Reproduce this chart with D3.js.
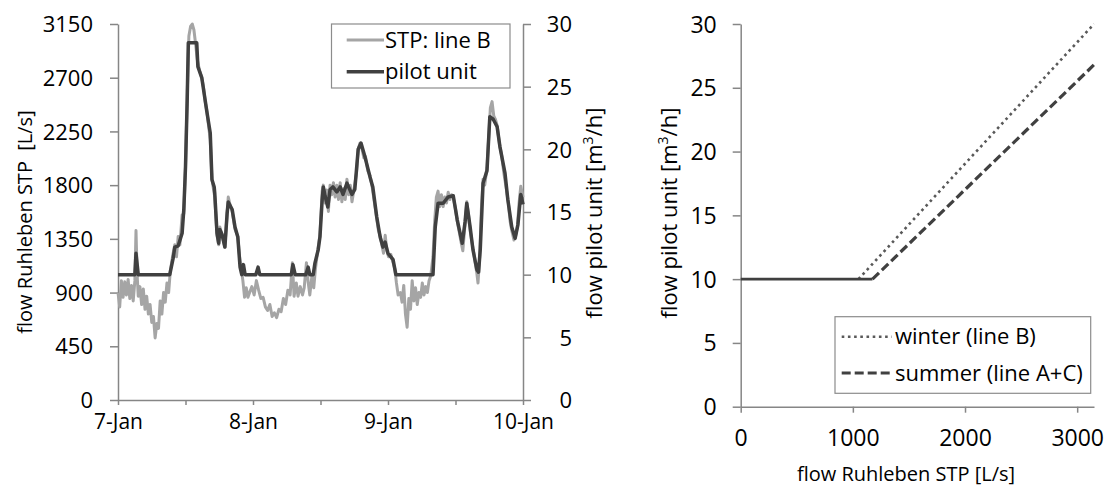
<!DOCTYPE html>
<html><head><meta charset="utf-8">
<script src="https://cdn.jsdelivr.net/npm/d3@7"></script>
<style>
body{margin:0;background:#fff}
svg{display:block}
text{font-family:"Open Sans",sans-serif;fill:#000}
</style>
</head><body>
<svg id="c" width="1106" height="486"></svg>
<script>
// ---------- Left chart data (hours after 7-Jan 00:00) ----------
const stpHours = [0,0.3,0.6,0.9,1.2,1.5,1.8,2.1,2.4,2.7,3.0,3.2,3.4,3.6,3.9,4.2,4.5,4.8,5.1,5.4,5.7,6.0,6.3,6.6,6.9,7.2,7.5,7.8,8.1,8.4,8.7,9.0,9.3,
 9.8,10.1,10.4,10.7,11.0,11.4,11.7,12.0,12.3,12.6,12.9,13.2,13.5,13.8,14.1,14.5,14.9,15.2,15.5,15.8,16.1,16.4,16.7,17.0,17.2,17.6,17.9,18.1,18.5,19.0,19.4,19.6,20.0,20.3,20.8,21.3,21.6,21.9,
 22.2,22.5,22.8,23.1,23.4,23.8,24.2,24.6,25.0,25.4,25.8,26.2,26.6,27.0,27.4,27.8,28.2,28.6,29.0,29.4,29.8,30.2,30.6,31.0,31.3,31.7,32.0,32.4,32.8,33.1,33.5,33.8,34.1,34.5,34.8,
 35.1,35.5,35.9,36.3,36.5,36.8,37.1,37.4,37.7,38.0,38.3,38.6,38.9,39.2,39.5,39.8,40.1,40.4,40.7,41.0,41.3,41.6,42.0,42.4,42.7,43.0,43.3,43.7,44.0,44.4,44.8,45.2,45.6,46.0,46.3,46.6,46.9,47.2,47.5,47.8,48.1,48.5,48.9,49.2,49.5,49.8,50.2,50.5,50.8,
 51.1,51.4,51.7,52.0,52.3,52.6,52.9,53.2,53.5,53.8,54.1,54.4,54.7,55.0,55.3,55.6,56.0,56.3,56.6,56.9,57.2,57.5,57.8,58.1,58.4,58.7,59.0,59.3,59.6,60.0,60.3,60.7,61.0,61.3,61.6,62.0,62.3,62.6,62.9,63.2,63.5,63.8,64.0,64.3,64.6,64.9,65.2,65.6,65.9,66.2,66.5,66.8,67.1,67.4,67.8,68.2,68.6,69.0,69.4,69.7,70.0,70.4,70.7,71.0,71.3,71.6,72.0];
const stpFlow = [900,780,1000,860,990,880,1010,850,960,830,1000,1420,1050,870,950,800,930,760,870,720,800,650,700,520,640,600,830,720,900,820,980,900,1080,
 1230,1300,1200,1370,1300,1550,1560,1950,2550,3050,3130,3150,3100,2980,2850,2760,2700,2620,2500,2420,2300,2180,1850,1760,1700,1380,1300,1450,1380,1280,1560,1700,1620,1580,1430,1370,1210,1100,
 1000,860,940,860,900,950,880,1000,920,850,860,780,750,800,700,730,690,760,740,850,800,920,880,1150,870,980,870,950,880,940,1150,990,880,1050,940,
 1100,1250,1380,1750,1800,1650,1760,1580,1800,1720,1820,1700,1800,1680,1820,1660,1770,1680,1850,1720,1800,1660,1780,1900,2100,2150,2120,2030,2040,1920,1880,1780,1650,1520,1420,1380,1300,1230,1380,1250,1200,1220,1150,1100,980,880,900,820,960,
 720,610,850,760,1000,830,940,800,900,860,980,880,950,900,1000,1040,1200,1500,1700,1750,1620,1720,1620,1700,1650,1740,1680,1720,1700,1600,1500,1400,1320,1250,1420,1660,1560,1420,1330,1250,1150,1060,980,1200,1600,1850,1800,1950,2200,2450,2500,2380,2350,2300,2150,2050,1900,1780,1650,1500,1420,1340,1380,1450,1650,1790,1700];

const pilotHours = [0,3.0,3.2,3.6,9.2,9.8,10.1,10.7,11.4,11.7,12.0,12.3,12.5,14.0,14.2,14.9,15.5,15.8,16.4,16.7,17.1,17.2,17.6,17.9,18.1,18.5,19.0,19.4,19.6,20.3,20.8,21.3,21.7,22.0,22.3,22.6,
 24.5,24.9,25.2,30.8,31.1,31.5,33.4,33.8,34.1,34.7,35.0,35.6,35.9,36.3,36.5,36.8,37.3,37.7,38.2,38.9,39.5,40.0,40.7,41.6,42.1,42.7,43.2,43.9,44.8,45.3,46.0,46.6,47.1,47.5,48.0,48.9,49.4,
 56.0,56.4,56.9,57.8,58.7,59.6,60.3,61.2,61.7,62.0,62.6,63.1,63.8,64.1,64.4,64.9,65.6,66.1,66.7,67.4,67.9,68.8,69.3,70.0,70.6,71.1,71.6,72.0];
const pilotFlow = [10,10,11.7,10,10,11.3,12.2,12.3,13.3,15.2,18.6,23.9,28.5,28.5,26.6,25.7,23.9,23.0,21.3,17.6,17.0,16.5,13.3,12.5,13.6,13.2,12.2,14.9,15.8,15.2,13.8,13.0,10.6,10,10.8,10,
 10,10.6,10,10,10.8,10,10,10.6,10,10,10.9,12.0,13.0,16.0,17.0,16.3,15.4,16.8,17.0,16.6,17.0,16.4,17.3,16.4,16.8,20.0,20.5,19.4,17.8,17.0,14.6,13.0,12.2,12.6,11.7,11.2,10,
 10,13.8,15.7,15.7,16.2,16.3,14.4,12.5,14.2,15.7,13.8,12.0,10.4,10.2,12.0,17.3,18.3,22.6,22.4,21.8,20.2,18.1,16.0,13.8,12.9,14.0,16.4,15.6];

const xTickLabels = ["7-Jan","8-Jan","9-Jan","10-Jan"];
const leftYTicks = [0,450,900,1350,1800,2250,2700,3150];
const rightYTicks = [0,5,10,15,20,25,30];
const leftLegend = ["STP: line B","pilot unit"];

// ---------- Right chart data ----------
const winterSTP = [0,1050,3150];
const winterPilot = [10,10,30];
const summerSTP = [0,1175,3150];
const summerPilot = [10,10,26.8];
const rXTicks = [0,1000,2000,3000];
const rYTicks = [0,5,10,15,20,25,30];
const rightLegend = ["winter (line B)","summer (line A+C)"];

const svg = d3.select("#c");
const AX = "#868686", GRAY = "#a5a5a5", DARK = "#404040";

function styleAxis(g, fs){
  g.select(".domain").attr("stroke",AX).attr("stroke-width",1.5);
  g.selectAll(".tick line").attr("stroke",AX).attr("stroke-width",1.5);
  g.selectAll("text").attr("font-size",fs).attr("font-family","Open Sans").attr("fill","#000");
}

// ===== Left chart =====
const t0 = new Date(2013,0,7);
const L = {x0:118, x1:523, y0:400, y1:24};
const xL = d3.scaleTime().domain([t0, d3.timeHour.offset(t0,72)]).range([L.x0,L.x1]);
const yL = d3.scaleLinear().domain([0,3150]).range([L.y0,L.y1]);
const yL2 = d3.scaleLinear().domain([0,30]).range([L.y0,L.y1]);
const hToDate = h => new Date(t0.getTime()+h*3600e3);

const xtv = d3.range(0,73,12).map(h=>d3.timeHour.offset(t0,h));
const gx = svg.append("g").attr("transform",`translate(0,${L.y0})`)
  .call(d3.axisBottom(xL).tickValues(xtv).tickSize(5).tickSizeOuter(0)
    .tickFormat((d,i)=> i%2===0 ? xTickLabels[i/2] : ""));
styleAxis(gx, 21);
gx.selectAll("text").attr("y",22).attr("dy","0.35em");

const gyl = svg.append("g").attr("transform",`translate(${L.x0},0)`)
  .call(d3.axisLeft(yL).tickValues(leftYTicks).tickSize(8).tickSizeOuter(0).tickFormat(d3.format("d")));
styleAxis(gyl, 22);
gyl.selectAll("text").attr("x",-25).attr("dy","0.35em");

const gyr = svg.append("g").attr("transform",`translate(${L.x1},0)`)
  .call(d3.axisRight(yL2).tickValues(rightYTicks).tickSize(8).tickSizeOuter(0).tickFormat(d3.format("d")));
styleAxis(gyr, 22);
gyr.selectAll("text").attr("x",49).attr("text-anchor","end").attr("dy","0.35em");

const stpData = stpHours.map((h,i)=>({h, v:stpFlow[i]}));
const lineSTP = d3.line().x(d=>xL(hToDate(d.h))).y(d=>yL(d.v));
svg.append("path").datum(stpData).attr("d",lineSTP)
  .attr("fill","none").attr("stroke",GRAY).attr("stroke-width",3).attr("stroke-linejoin","round");
const pilotData = pilotHours.map((h,i)=>({h, v:pilotFlow[i]}));
const linePilot = d3.line().x(d=>xL(hToDate(d.h))).y(d=>yL2(d.v));
svg.append("path").datum(pilotData).attr("d",linePilot)
  .attr("fill","none").attr("stroke",DARK).attr("stroke-width",3.5).attr("stroke-linejoin","round");

// left titles
svg.append("text").attr("transform","translate(32,222) rotate(-90)")
  .attr("text-anchor","middle").attr("font-size",20).text("flow Ruhleben STP\u00a0\u00a0[L/s]");
function pilotTitle(x){
  const t = svg.append("text").attr("transform",`translate(${x},213) rotate(-90)`)
    .attr("text-anchor","middle").attr("font-size",22);
  t.append("tspan").text("flow pilot unit [m");
  t.append("tspan").attr("font-size",14).attr("dy",-9).text("3");
  t.append("tspan").attr("dy",9).text("/h]");
}
pilotTitle(602);

// left legend
const lg = svg.append("g");
lg.append("rect").attr("x",331.5).attr("y",24).attr("width",178.5).attr("height",64)
  .attr("fill","#fff").attr("stroke","#8c8c8c").attr("stroke-width",1.2);
[[GRAY,3],[DARK,3.5]].forEach((s,i)=>{
  const yy = 40 + i*31.7;
  lg.append("line").attr("x1",346.7).attr("x2",384).attr("y1",yy).attr("y2",yy)
    .attr("stroke",s[0]).attr("stroke-width",s[1]);
  lg.append("text").attr("x",385).attr("y",yy).attr("dy","0.35em").attr("font-size",22).text(leftLegend[i]);
});

// ===== Right chart =====
const R = {x0:740.7, x1:1094, y0:406.7, y1:24};
const xR = d3.scaleLinear().domain([0,3150]).range([R.x0,R.x1]);
const yR = d3.scaleLinear().domain([0,30]).range([R.y0,R.y1]);

const grx = svg.append("g").attr("transform",`translate(0,${R.y0})`)
  .call(d3.axisBottom(xR).tickValues(rXTicks).tickSize(6).tickSizeOuter(0).tickFormat(d3.format("d")));
styleAxis(grx, 23);
grx.selectAll("text").attr("y",31).attr("dy","0.35em");
const gry = svg.append("g").attr("transform",`translate(${R.x0},0)`)
  .call(d3.axisLeft(yR).tickValues(rYTicks).tickSize(8).tickSizeOuter(0).tickFormat(d3.format("d")));
styleAxis(gry, 23);
gry.selectAll("text").attr("x",-24).attr("dy","0.35em");

const lineR = d3.line().x(d=>xR(d[0])).y(d=>yR(d[1]));
const winter = winterSTP.map((x,i)=>[x,winterPilot[i]]);
const summer = summerSTP.map((x,i)=>[x,summerPilot[i]]);
svg.append("path").attr("d",lineR(winter.slice(1))).attr("fill","none")
  .attr("stroke","#595959").attr("stroke-width",2.6).attr("stroke-dasharray","2.6,3.6");
svg.append("path").attr("d",lineR(summer.slice(1))).attr("fill","none")
  .attr("stroke",DARK).attr("stroke-width",3.2).attr("stroke-dasharray","9,4");
svg.append("path").attr("d",lineR(summer.slice(0,2))).attr("fill","none")
  .attr("stroke",DARK).attr("stroke-width",2.8);

pilotTitle(677);
svg.append("text").attr("x",906).attr("y",481).attr("text-anchor","middle")
  .attr("font-size",20).text("flow Ruhleben STP [L/s]");

// right legend
const rg = svg.append("g");
rg.append("rect").attr("x",835).attr("y",316.7).attr("width",255.7).attr("height",76.6)
  .attr("fill","#fff").attr("stroke","#8c8c8c").attr("stroke-width",1.2);
rg.append("line").attr("x1",841.7).attr("x2",891.7).attr("y1",336.7).attr("y2",336.7)
  .attr("stroke","#595959").attr("stroke-width",2.6).attr("stroke-dasharray","2.6,3.6");
rg.append("line").attr("x1",841.7).attr("x2",893).attr("y1",373).attr("y2",373)
  .attr("stroke",DARK).attr("stroke-width",3.2).attr("stroke-dasharray","9,4");
rightLegend.forEach((s,i)=>{
  rg.append("text").attr("x",895).attr("y",i?373:336.7).attr("dy","0.35em").attr("font-size",22).text(s);
});
</script>
</body></html>
